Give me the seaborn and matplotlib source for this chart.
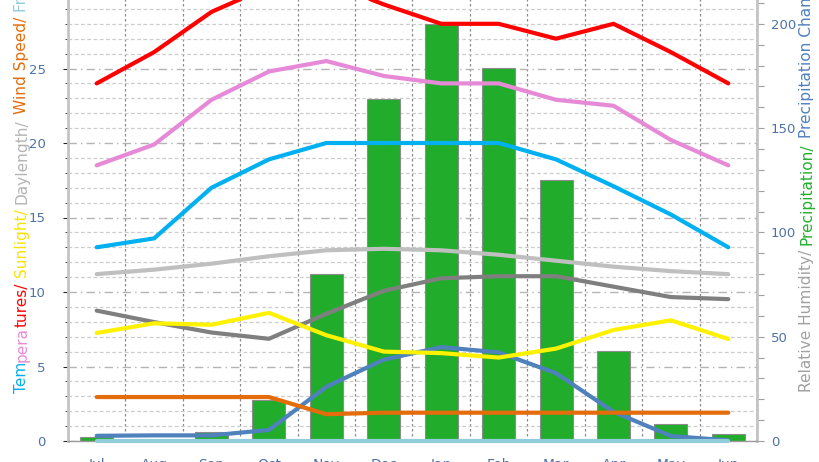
import numpy as np
import pandas as pd
import matplotlib
matplotlib.use("Agg")
import matplotlib.pyplot as plt
import matplotlib.ticker as mticker
import seaborn as sns

# ---------------------------------------------------
# monthly values
# ---------------------------------------------------
months = ["Jul", "Aug", "Sep", "Oct", "Nov", "Dec", "Jan", "Feb", "Mar", "Apr", "May", "Jun"]

# left axis (0-35)
temp_max = [24.0, 26.1, 28.8, 30.5, 30.8, 29.3, 28.0, 28.0, 27.0, 28.0, 26.1, 24.0]
temp_mean = [18.5, 19.9, 22.9, 24.8, 25.5, 24.5, 24.0, 24.0, 22.9, 22.5, 20.2, 18.5]
temp_min = [13.0, 13.6, 17.0, 18.9, 20.0, 20.0, 20.0, 20.0, 18.9, 17.1, 15.2, 13.0]
daylength = [11.2, 11.5, 11.9, 12.4, 12.8, 12.9, 12.8, 12.5, 12.1, 11.7, 11.4, 11.2]
sunlight = [7.25, 7.9, 7.8, 8.6, 7.1, 6.0, 5.9, 5.6, 6.2, 7.45, 8.1, 6.85]
wind_speed = [2.95, 2.95, 2.95, 2.95, 1.8, 1.9, 1.9, 1.9, 1.9, 1.9, 1.9, 1.9]
frost = [0, 0, 0, 0, 0, 0, 0, 0, 0, 0, 0, 0]

# right axis (0-250)
humidity = [62.5, 57, 52, 49, 61, 72, 78, 79, 79, 74, 69, 68]
precip = [2, 0, 4.5, 19.5, 80, 164, 200, 179, 125, 43, 8, 3.2]
precip_chance = [2.5, 2.7, 2.7, 5.3, 26, 39, 45, 42.5, 32.5, 14, 2.4, 0.3]

df = pd.DataFrame({
    "month": months, "tmax": temp_max, "tmean": temp_mean, "tmin": temp_min,
    "day": daylength, "sun": sunlight, "wind": wind_speed, "frost": frost,
    "hum": humidity, "prec": precip, "chance": precip_chance,
})

TICK_C = "#4f72a6"
FS_TICK = 9.5
FS_LAB = 11.1

sns.set_style("white")
plt.rcParams["font.family"] = ["DejaVu Sans"]

W, H = 820, 462
fig = plt.figure(figsize=(W / 100, H / 100), dpi=100)
# plot area runs above the top edge of the picture (cropped chart)
axB = fig.add_axes([68 / W, 21 / H, 689 / W, 521.5 / H])

# ---------------------------------------------------
# bars + right-axis lines
# ---------------------------------------------------
sns.barplot(data=df, x="month", y="prec", color="#21ad2b", saturation=1,
            width=0.575, edgecolor="#8c8c8c", linewidth=0.8, ax=axB)
sns.lineplot(data=df, x="month", y="hum", color="#7f7f7f", lw=3, sort=False, ax=axB)
sns.lineplot(data=df, x="month", y="chance", color="#4f81bd", lw=3, sort=False, ax=axB)

axB.set_xlim(-0.5, 11.5)
axB.set_ylim(0, 250)
axB.set_xlabel("")
axB.set_ylabel("")

# grid in left-axis units, kept under the bars
axB.set_axisbelow(True)
axB.yaxis.set_major_locator(mticker.MultipleLocator(250 / 7))
axB.yaxis.set_minor_locator(mticker.MultipleLocator(250 / 35))
axB.tick_params(axis="y", which="both", left=False, right=False,
                labelleft=False, labelright=False)
axB.grid(axis="y", which="major", color="#b4b4b4", lw=1, linestyle=(0, (6, 3, 1, 3)))
axB.grid(axis="y", which="minor", color="#cdcdcd", lw=0.9, linestyle=(0, (3, 2)))
axB.xaxis.set_minor_locator(mticker.MultipleLocator(1, offset=0.5))
axB.grid(axis="x", which="minor", color="#8a8a8a", lw=0.9, linestyle=(0, (2, 2)))
axB.grid(axis="x", which="major", visible=False)
axB.tick_params(axis="x", which="major", length=0, pad=12, labelsize=FS_TICK + 0.5,
                labelcolor=TICK_C)
axB.tick_params(axis="x", which="minor", length=7, width=0.8, color="#a0a0a0")

for side in ["top", "right"]:
    axB.spines[side].set_visible(False)
axB.spines["left"].set_color("#c4c4c4")
axB.spines["left"].set_linewidth(2)
axB.spines["bottom"].set_color("#9a9a9a")
axB.spines["bottom"].set_linewidth(1)

# right tick labels
axR = axB.secondary_yaxis("right")
axR.yaxis.set_major_locator(mticker.MultipleLocator(50))
axR.yaxis.set_minor_locator(mticker.MultipleLocator(10))
axR.tick_params(which="major", length=5, width=0.8, color="#a0a0a0",
                pad=5, labelsize=FS_TICK, labelcolor=TICK_C)
axR.tick_params(which="minor", length=5, width=0.8, color="#a0a0a0")
axR.spines["right"].set_color("#c4c4c4")
axR.spines["right"].set_linewidth(2)

# ---------------------------------------------------
# left-axis lines
# ---------------------------------------------------
axL = axB.twinx()
axL.patch.set_visible(False)
left_series = [
    ("frost", "#92cddc"),
    ("wind", "#e46c0a"),
    ("sun", "#fff200"),
    ("day", "#bfbfbf"),
    ("tmin", "#00b0f0"),
    ("tmean", "#e68ad8"),
    ("tmax", "#ff0000"),
]
for col, c in left_series:
    sns.lineplot(data=df, x="month", y=col, color=c, lw=3, sort=False,
                 clip_on=(col != "frost"), ax=axL)
axL.set_ylim(0, 35)
axL.set_ylabel("")
axL.yaxis.tick_left()
axL.yaxis.set_major_locator(mticker.MultipleLocator(5))
axL.tick_params(axis="y", length=0, pad=16, labelsize=FS_TICK, labelcolor=TICK_C)
for s in axL.spines.values():
    s.set_visible(False)


# ---------------------------------------------------
# multi-coloured axis titles (rotated)
# ---------------------------------------------------
def colour_label(x_px, y_px, parts):
    rend = fig.canvas.get_renderer()

    def length(s):
        t = fig.text(0, 0, s, fontsize=FS_LAB)
        w = t.get_window_extent(rend).width
        t.remove()
        return w

    space_w = length("a a") - length("aa")
    prefix = ""
    for s, c in parts:
        stripped = prefix.rstrip()
        off = (length(stripped) if stripped else 0) + space_w * (len(prefix) - len(stripped))
        fig.text(x_px / W, (y_px + off) / H, s.strip(), rotation=90, ha="center",
                 va="bottom", color=c, fontsize=FS_LAB)
        prefix += s


colour_label(22, 69, [("Tem", "#00b0f0"), ("pera", "#e68ad8"), ("tures/ ", "#ff0000"),
                      ("Sunlight/ ", "#f5e400"), ("Daylength/ ", "#b4b4b4"),
                      ("Wind Speed/ ", "#e46c0a"), ("Frost Days", "#92cddc")])
colour_label(807, 70, [("Relative Humidity/ ", "#a0a0a0"), ("Precipitation/ ", "#22b02c"),
                       ("Precipitation Chance", "#4f81bd")])

fig.savefig("out.png", dpi=100)
